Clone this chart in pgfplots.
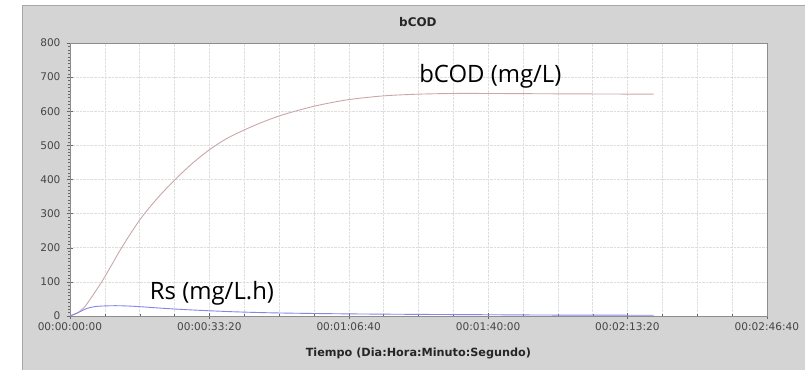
\documentclass[border=0pt]{standalone}
\usepackage{fontspec}
\setmainfont{DejaVu Sans}
\newfontfamily\seg{Open Sans}
\usepackage{pgfplots}
\pgfplotsset{compat=1.18}
\definecolor{panel}{HTML}{D4D4D4}
\definecolor{panelborder}{HTML}{A8A8A8}
\definecolor{codc}{HTML}{CBA8A8}
\definecolor{rsc}{HTML}{8585EC}
\definecolor{tickc}{HTML}{454545}
\begin{document}
\begin{tikzpicture}
\fill[white] (0,0) rectangle (805bp,370bp);
\fill[panel] (22bp,0) rectangle (805bp,365bp);
\draw[panelborder] (22bp,0) -- (22bp,365bp) -- (805bp,365bp);
\useasboundingbox (0,0) rectangle (805bp,370bp);
\begin{axis}[
  at={(70bp,54bp)}, anchor=south west,
  scale only axis, width=697bp, height=273bp,
  xmin=0, xmax=10000, ymin=0, ymax=800,
  axis background/.style={fill=white},
  xtick={0,2000,4000,6000,8000,10000},
  xticklabels={00:00:00:00,00:00:33:20,00:01:06:40,00:01:40:00,00:02:13:20,00:02:46:40},
  minor x tick num=3,
  ytick={0,100,...,800},
  minor y tick num=9,
  xmajorgrids, xminorgrids, ymajorgrids,
  grid style={densely dotted, draw=black!13},
  minor grid style={densely dotted, draw=black!13},
  axis line style={draw=black!45},
  tick style={draw=black!60},
  major tick length=6bp, minor tick length=3bp,
  tick align=center,
  xtick pos=bottom, ytick pos=left,
  ticklabel style={font=\fontsize{10.6}{13}\selectfont, text=tickc},
  yticklabel style={xshift=-3bp},
  /pgf/number format/assume math mode=true,
  scaled ticks=false,
  xlabel={\bfseries Tiempo (Dia:Hora:Minuto:Segundo)},
  xlabel style={font=\fontsize{11.3}{13}\selectfont, text=black!85, at={(axis description cs:0.5,0)}, anchor=base, yshift=-41bp},
  clip=true,
]
\addplot[codc, line width=0.9bp, smooth] coordinates {
(0,0) (100,8) (200,24) (300,52) (450,98) (600,150) (750,203) (1000,281)
(1250,344) (1500,398) (1750,446) (2000,487) (2250,520) (2500,545) (2750,567)
(3000,586) (3300,604) (3600,619) (4000,634) (4500,645) (5000,650) (5500,652)
(6000,652) (7000,651) (8375,650)};
\addplot[rsc, line width=0.9bp, smooth] coordinates {
(0,0) (120,10) (243,22) (350,27) (458,29) (650,30) (840,29) (1050,26.5) (1317,22.6)
(1700,18) (2243,13) (2700,10) (3197,8) (4000,6) (5000,4.5) (6000,3.5)
(7000,2.5) (8375,2)};
\node[anchor=base west, inner sep=0, font=\seg\fontsize{24}{28}\selectfont] at (axis cs:5010,683) {bCOD (mg/L)};
\node[anchor=base west, inner sep=0, font=\seg\fontsize{24}{28}\selectfont] at (axis cs:1145,47) {Rs (mg/L.h)};
\end{axis}
\node[font=\bfseries\fontsize{12}{14}\selectfont, text=black!85] at (418bp,348bp) {bCOD};
\end{tikzpicture}
\end{document}
